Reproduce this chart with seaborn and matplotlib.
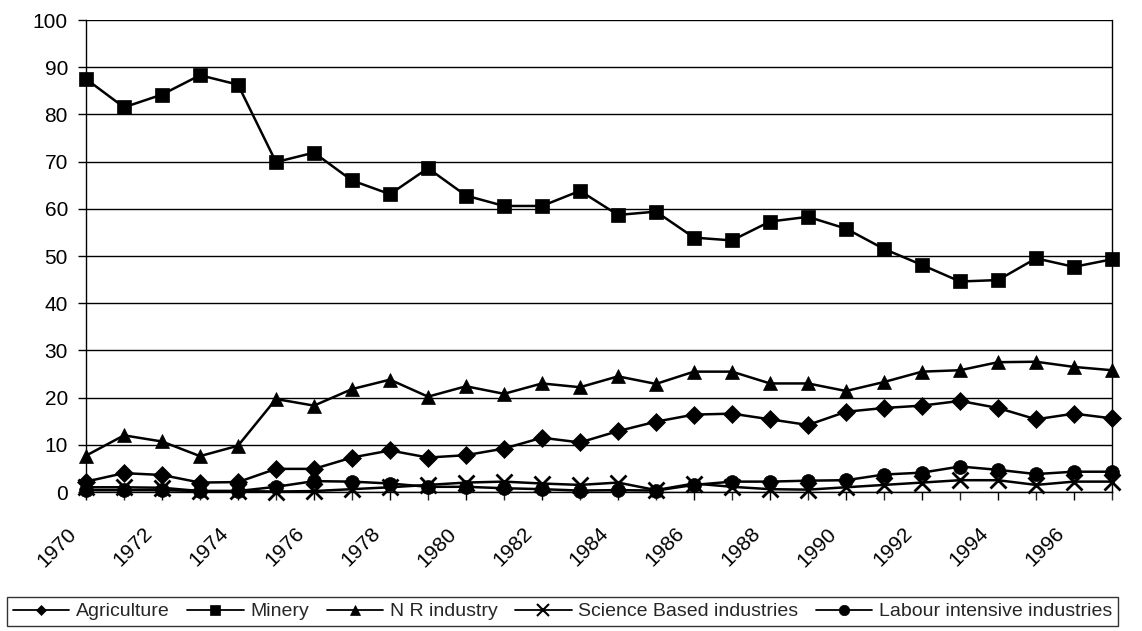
import matplotlib
matplotlib.use("Agg")
import matplotlib.pyplot as plt
import matplotlib.transforms as mtransforms
import seaborn as sns
import pandas as pd
import numpy as np

years = list(range(1970, 1998))

agriculture = [2.2, 4.0, 3.6, 2.0, 2.1, 4.9, 4.9, 7.3, 8.8, 7.3, 7.8, 9.2, 11.5, 10.5,
               12.9, 14.9, 16.4, 16.6, 15.4, 14.2, 17.0, 17.8, 18.3, 19.3, 17.8, 15.4, 16.6, 15.6]
minery = [87.5, 81.5, 84.2, 88.3, 86.3, 69.9, 71.9, 66.0, 63.1, 68.6, 62.8, 60.6, 60.6, 63.8,
          58.7, 59.4, 53.9, 53.3, 57.3, 58.3, 55.8, 51.5, 48.1, 44.6, 44.9, 49.5, 47.7, 49.3]
nr_industry = [7.7, 12.0, 10.7, 7.6, 9.8, 19.7, 18.3, 21.8, 23.8, 20.2, 22.4, 20.8, 23.0, 22.2,
               24.5, 22.9, 25.5, 25.5, 23.0, 23.0, 21.4, 23.3, 25.5, 25.8, 27.5, 27.6, 26.5, 25.8]
science_based = [1.0, 1.0, 0.9, 0.2, 0.2, 0.1, 0.2, 0.6, 1.0, 1.5, 2.0, 2.2, 1.8, 1.5,
                 2.0, 0.4, 1.8, 1.1, 0.6, 0.5, 1.0, 1.5, 2.0, 2.5, 2.5, 1.5, 2.2, 2.2]
labour_intensive = [0.4, 0.4, 0.4, 0.2, 0.2, 1.1, 2.3, 2.2, 1.8, 1.1, 1.1, 0.8, 0.6, 0.3,
                    0.4, 0.3, 1.5, 2.2, 2.2, 2.4, 2.5, 3.7, 4.1, 5.4, 4.7, 3.8, 4.3, 4.3]

series_names = ["Agriculture", "Minery", "N R industry",
                "Science Based industries", "Labour intensive industries"]
series_values = [agriculture, minery, nr_industry, science_based, labour_intensive]
series_markers = ["D", "s", "^", "x", "o"]
series_sizes = [9, 10, 10, 11, 10]
legend_sizes = [5.5, 7.5, 7.5, 8, 7.5]

df = pd.DataFrame({
    "year": np.tile(years, len(series_names)),
    "value": np.concatenate(series_values),
    "series": np.repeat(series_names, len(years)),
})

sns.set_style("white")
plt.rcParams["font.family"] = ["Liberation Sans", "DejaVu Sans"]

fig = plt.figure(figsize=(11.42, 6.31), dpi=100)
ax = fig.add_axes([86 / 1142, 1 - 492 / 631, (1112 - 86) / 1142, (492 - 20) / 631])

handles = []
for name, mk, ms, lms in zip(series_names, series_markers, series_sizes, legend_sizes):
    sub = df[df["series"] == name]
    sns.lineplot(data=sub, x="year", y="value", ax=ax, color="black", linewidth=1.8,
                 marker=mk, markersize=ms, markeredgecolor="black",
                 markerfacecolor="black", markeredgewidth=2 if mk == "x" else 0.5,
                 legend=False, clip_on=False, zorder=3)
    handles.append(plt.Line2D([], [], color="black", linewidth=1.3, marker=mk,
                              markersize=lms, markerfacecolor="black",
                              markeredgewidth=1.5 if mk == "x" else 0.5, label=name))

ax.set_xlim(1970, 1997)
ax.set_ylim(0, 100)
ax.set_yticks(range(0, 101, 10))
ax.set_xticks(range(1970, 1997, 2))
ax.set_xticks(range(1970, 1998), minor=True)
ax.set_xticklabels([str(y) for y in range(1970, 1997, 2)], rotation=45,
                   ha="right", va="top", rotation_mode="anchor")
ax.tick_params(axis="both", labelsize=15, colors="black")
ax.tick_params(axis="x", which="both", direction="out", length=6, width=1,
               bottom=True, pad=17)
ax.tick_params(axis="y", which="major", direction="out", length=6, width=1,
               left=True, pad=7)
ax.set_xlabel("")
ax.set_ylabel("")
ax.grid(axis="y", color="black", linewidth=1)
ax.set_axisbelow(True)
for side in ["left", "bottom", "right"]:
    ax.spines[side].set_color("black")
    ax.spines[side].set_linewidth(1)
ax.spines["top"].set_visible(False)

# shift rotated year labels so their upper end sits left of the tick
shift = mtransforms.ScaledTranslation(-19 / 100, 0, fig.dpi_scale_trans)
for lbl in ax.get_xticklabels():
    lbl.set_transform(lbl.get_transform() + shift)

leg = fig.legend(handles=handles, loc="upper left", ncol=5,
                 bbox_to_anchor=(7 / 1142, 1 - 597 / 631), fontsize=14,
                 frameon=True, fancybox=False, edgecolor="black",
                 handlelength=2.9, handletextpad=0.35, columnspacing=0.9,
                 borderpad=0.3, borderaxespad=0)
leg.get_frame().set_linewidth(1)

fig.savefig("out.png", dpi=100)
